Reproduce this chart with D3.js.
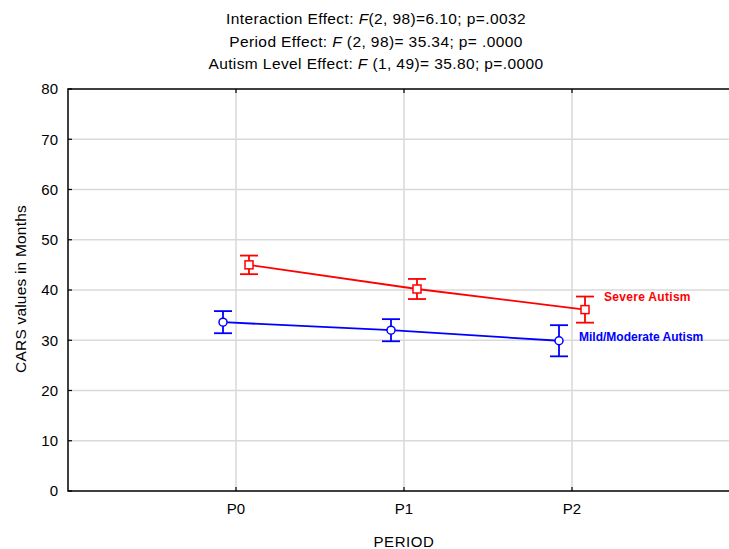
<!DOCTYPE html>
<html>
<head>
<meta charset="utf-8">
<script src="https://cdn.jsdelivr.net/npm/d3@7"></script>
<style>
  body { margin: 0; background: #fff; }
  text { font-family: "Liberation Sans", Arial, sans-serif; }
</style>
</head>
<body>
<div id="chart"></div>
<script>
// data
var periods = ["P0", "P1", "P2"];
var severeMean = [45.0, 40.2, 36.1];
var severeErr = [1.85, 2.0, 2.6];
var mildMean = [33.6, 32.0, 29.9];
var mildErr = [2.2, 2.2, 3.1];
var yTicks = [0, 10, 20, 30, 40, 50, 60, 70, 80];
var titleLines = [
    ["Interaction Effect: ", "F", "(2, 98)=6.10; p=.0032"],
    ["Period Effect: ", "F", " (2, 98)= 35.34; p= .0000"],
    ["Autism Level Effect: ", "F", " (1, 49)= 35.80; p=.0000"]
];

var W = 729, H = 549;
var margin = {top: 89, left: 68, bottom: 58};
var plotRight = 740;

var svg = d3.select("#chart").append("svg")
    .attr("width", W)
    .attr("height", H);

var x = d3.scalePoint()
    .domain(periods)
    .range([margin.left, plotRight])
    .padding(1);

var y = d3.scaleLinear()
    .domain([0, 80])
    .range([H - margin.bottom, margin.top]);

// grid
svg.selectAll(".hgrid")
    .data(yTicks.filter(function(d) { return d > 0 && d < 80; }))
    .enter().append("line")
    .attr("x1", margin.left).attr("x2", plotRight)
    .attr("y1", function(d) { return y(d); })
    .attr("y2", function(d) { return y(d); })
    .style("stroke", "#d9d9d9").style("stroke-width", 1.5);

svg.selectAll(".vgrid")
    .data(periods)
    .enter().append("line")
    .attr("x1", function(d) { return x(d); })
    .attr("x2", function(d) { return x(d); })
    .attr("y1", y(80)).attr("y2", y(0))
    .style("stroke", "#d9d9d9").style("stroke-width", 1.5);

// inner ticks
svg.selectAll(".xtickb")
    .data(periods)
    .enter().append("line")
    .attr("x1", function(d) { return x(d); })
    .attr("x2", function(d) { return x(d); })
    .attr("y1", y(0)).attr("y2", y(0) - 4)
    .style("stroke", "#000").style("stroke-width", 1.2);
svg.selectAll(".xtickt")
    .data(periods)
    .enter().append("line")
    .attr("x1", function(d) { return x(d); })
    .attr("x2", function(d) { return x(d); })
    .attr("y1", y(80)).attr("y2", y(80) + 4)
    .style("stroke", "#000").style("stroke-width", 1.2);
svg.selectAll(".ytick")
    .data(yTicks)
    .enter().append("line")
    .attr("x1", margin.left).attr("x2", margin.left + 4)
    .attr("y1", function(d) { return y(d); })
    .attr("y2", function(d) { return y(d); })
    .style("stroke", "#000").style("stroke-width", 1.2);

// frame
svg.append("rect")
    .attr("x", margin.left).attr("y", y(80))
    .attr("width", plotRight - margin.left)
    .attr("height", y(0) - y(80))
    .style("fill", "none").style("stroke", "#000").style("stroke-width", 1.5);

// y labels
svg.selectAll(".ylab")
    .data(yTicks)
    .enter().append("text")
    .attr("x", margin.left - 10)
    .attr("y", function(d) { return y(d); })
    .attr("dy", "0.35em")
    .attr("text-anchor", "end")
    .style("font-size", "15px")
    .text(function(d) { return d; });

// x labels
svg.selectAll(".xlab")
    .data(periods)
    .enter().append("text")
    .attr("x", function(d) { return x(d); })
    .attr("y", y(0) + 23)
    .attr("text-anchor", "middle")
    .style("font-size", "15px")
    .text(function(d) { return d; });

svg.append("text")
    .attr("x", x("P1"))
    .attr("y", 547)
    .attr("text-anchor", "middle")
    .style("font-size", "15px")
    .style("letter-spacing", "0.6px")
    .text("PERIOD");

svg.append("text")
    .attr("transform", "translate(26," + 289 + ") rotate(-90)")
    .attr("text-anchor", "middle")
    .style("font-size", "15.5px")
    .style("letter-spacing", "0.2px")
    .text("CARS values in Months");

// title
var title = svg.append("g");
titleLines.forEach(function(parts, i) {
    var t = title.append("text")
        .attr("x", 376)
        .attr("y", 24 + i * 22.5)
        .attr("text-anchor", "middle")
        .style("font-size", "15.5px")
        .style("letter-spacing", "0.4px");
    t.append("tspan").text(parts[0]);
    t.append("tspan").style("font-style", "italic").text(parts[1]);
    t.append("tspan").text(parts[2]);
});

// series
function drawSeries(means, errs, color, shift, marker, label, labelDx, labelDy, spacing) {
    var pts = periods.map(function(p, i) {
        return {p: p, v: means[i], e: errs[i]};
    });
    var line = d3.line()
        .x(function(d) { return x(d.p) + shift; })
        .y(function(d) { return y(d.v); });
    var g = svg.append("g");
    g.append("path")
        .attr("d", line(pts))
        .style("fill", "none")
        .style("stroke", color)
        .style("stroke-width", 1.8);

    var eb = g.selectAll(".eb").data(pts).enter().append("g");
    eb.append("line")
        .attr("x1", function(d) { return x(d.p) + shift; })
        .attr("x2", function(d) { return x(d.p) + shift; })
        .attr("y1", function(d) { return y(d.v + d.e); })
        .attr("y2", function(d) { return y(d.v - d.e); })
        .style("stroke", color).style("stroke-width", 1.8);
    [1, -1].forEach(function(s) {
        eb.append("line")
            .attr("x1", function(d) { return x(d.p) + shift - 9; })
            .attr("x2", function(d) { return x(d.p) + shift + 9; })
            .attr("y1", function(d) { return y(d.v + s * d.e); })
            .attr("y2", function(d) { return y(d.v + s * d.e); })
            .style("stroke", color).style("stroke-width", 1.8);
    });

    if (marker === "square") {
        eb.append("rect")
            .attr("x", function(d) { return x(d.p) + shift - 4; })
            .attr("y", function(d) { return y(d.v) - 4; })
            .attr("width", 8).attr("height", 8)
            .style("fill", "#fff").style("stroke", color).style("stroke-width", 1.5);
    } else {
        eb.append("circle")
            .attr("cx", function(d) { return x(d.p) + shift; })
            .attr("cy", function(d) { return y(d.v); })
            .attr("r", 4)
            .style("fill", "#fff").style("stroke", color).style("stroke-width", 1.5);
    }

    var last = pts[pts.length - 1];
    g.append("text")
        .attr("x", x(last.p) + shift + labelDx)
        .attr("y", y(last.v) + labelDy)
        .style("font-size", "12px")
        .style("font-weight", "bold")
        .style("letter-spacing", spacing)
        .style("fill", color)
        .text(label);
}

drawSeries(severeMean, severeErr, "#ff0000", 13, "square", "Severe Autism", 19, -9, "0.3px");
drawSeries(mildMean, mildErr, "#0000ff", -13, "circle", "Mild/Moderate Autism", 20, 0, "0px");
</script>
</body>
</html>
